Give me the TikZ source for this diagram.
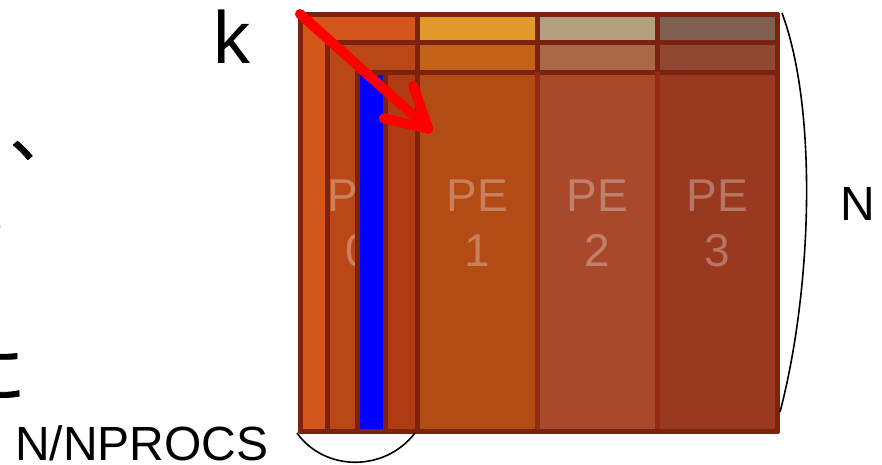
\documentclass[tikz,border=0pt]{standalone}
\usepackage{fontspec}
\setmainfont{Liberation Sans}
\newfontfamily\jpfont[FakeBold=1.2]{Noto Sans CJK JP}
\usetikzlibrary{arrows.meta}

\definecolor{bord}{HTML}{7B2310}
\definecolor{sep}{HTML}{922B12}
\definecolor{colA}{HTML}{D5561A}
\definecolor{colB}{HTML}{BA4816}
\definecolor{colC}{HTML}{B03C14}
\definecolor{topA}{HTML}{E0992A}
\definecolor{topB}{HTML}{B49E7E}
\definecolor{topC}{HTML}{7F6152}
\definecolor{midA}{HTML}{C4621A}
\definecolor{midB}{HTML}{AB6848}
\definecolor{midC}{HTML}{8F4832}
\definecolor{mainA}{HTML}{B34B15}
\definecolor{mainB}{HTML}{A8492C}
\definecolor{mainC}{HTML}{993A20}

\tikzset{
  cell/.style={draw=bord, line width=5pt},
  pelabel/.style={anchor=north, inner sep=0pt, align=center, text=white, text opacity=0.3,
    font=\fontsize{46}{55}\selectfont},
  bigtext/.style={inner sep=0pt, font=\fontsize{48}{55}\selectfont},
  jptext/.style={inner sep=0pt, anchor=base east, font=\jpfont\fontsize{66}{70}\selectfont},
  brace/.style={black, line width=1.6pt},
}

\begin{document}
\begin{tikzpicture}[x=1pt,y=-1pt,line join=round,
    >={Straight Barb[length=40pt,width=44pt,round]}]
	\clip (0,0) rectangle (882,464);

	% text on the left
	\node[jptext] (jp_1) at (76,156) {く、};
	\node[jptext] (jp_2) at (6,230) {た};
	\node[jptext] (jp_3) at (26,398) {に};

	% the matrix
	\draw[cell, fill=colA] (300,14) rectangle (777,431);
	\draw[cell, fill=topA] (417,14) rectangle (537,42);
	\draw[cell, fill=topB] (537,14) rectangle (657,42);
	\draw[cell, fill=topC] (657,14) rectangle (777,42);
	\draw[cell, fill=colB] (327,42) rectangle (777,431);
	\draw[cell, fill=midA] (417,42) rectangle (537,72);
	\draw[cell, fill=midB] (537,42) rectangle (657,72);
	\draw[cell, fill=midC] (657,42) rectangle (777,72);
	\draw[cell, fill=mainA] (417,72) rectangle (537,431);
	\draw[cell, fill=mainB] (537,72) rectangle (657,431);
	\draw[cell, fill=mainC] (657,72) rectangle (777,431);
	\draw[sep, line width=5pt] (537,72) -- (537,431) (657,72) -- (657,431);

	\node[pelabel] (pe_0) at (358,180) {PE\\0};
	\node[pelabel] (pe_1) at (477,180) {PE\\1};
	\node[pelabel] (pe_2) at (597,180) {PE\\2};
	\node[pelabel] (pe_3) at (717,180) {PE\\3};

	\draw[cell, fill=colC] (385,72) rectangle (417,431);
	\draw[cell, fill=blue] (357,72) rectangle (385,431);
	\draw[cell] (300,14) rectangle (777,431);

	% k arrow
	\coordinate (k_start) at (300,14);
	\coordinate (k_tip) at (432,132);
	\draw[->, red, line width=10pt, line cap=round] (k_start) -- (k_tip);
	\node[anchor=base, inner sep=0pt, font=\fontsize{74}{80}\selectfont] (lbl_k) at (232,63) {k};

	% braces
	\coordinate (br_top) at (782,13);
	\coordinate (br_bot) at (780,412);
	\draw[brace] (br_top) .. controls (818,110) and (812,290) .. (br_bot);
	\node[bigtext, anchor=base west] (lbl_n) at (840,220) {N};

	\coordinate (bw_left) at (297,433);
	\coordinate (bw_right) at (415,433);
	\draw[brace] (bw_left) .. controls (325,472) and (385,472) .. (bw_right);
	\node[bigtext, anchor=base west] (lbl_np) at (15,460) {N/NPROCS};
\end{tikzpicture}
\end{document}
